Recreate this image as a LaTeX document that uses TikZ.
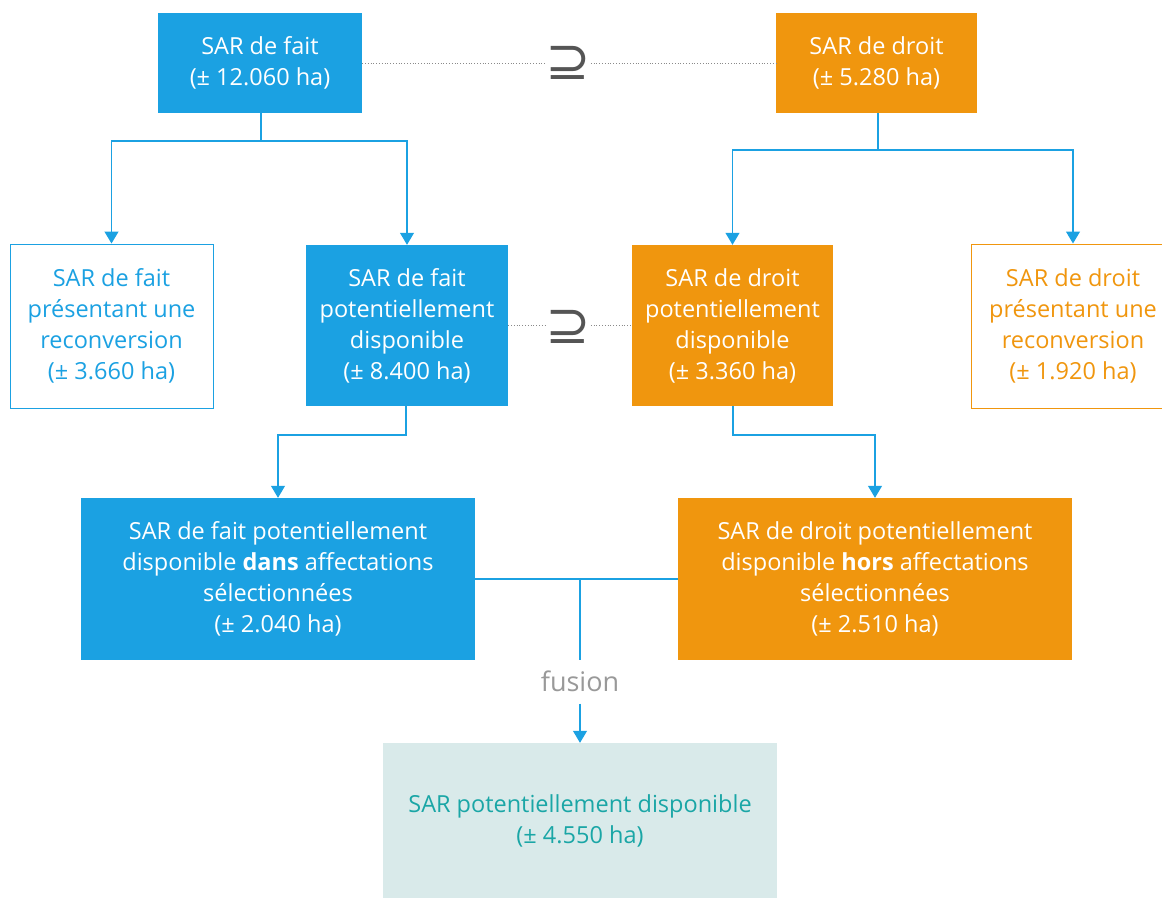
\documentclass[tikz,border=0pt]{standalone}
\usepackage{fontspec}
\setmainfont{Open Sans}
\newfontfamily\symfont{DejaVu Sans}
\usetikzlibrary{arrows.meta}
\definecolor{sarblue}{HTML}{1BA1E2}
\definecolor{sarorange}{HTML}{F0960E}
\definecolor{sarteal}{HTML}{1AA6A6}
\definecolor{sartealbg}{HTML}{D9EAEA}
\definecolor{supgray}{HTML}{555555}
\definecolor{dotgray}{HTML}{8A8A8A}
\definecolor{fusiongray}{HTML}{999999}
\begin{document}
\begin{tikzpicture}[x=1pt,y=-1pt,
  every node/.style={font=\fontsize{23.5}{31}\selectfont, align=center, inner sep=0pt},
  solidbox/.style={fill=#1, text=white, minimum width=203, minimum height=100},
  openbox/.style={draw=#1, line width=1pt, fill=white, text=#1},
  conn/.style={draw=sarblue, line width=1.2pt},
  arr/.style={conn, -{Triangle[width=14pt,length=12pt]}},
  dotline/.style={draw=dotgray, line width=0.8pt, dotted},
  supsign/.style={font=\symfont\fontsize{54}{54}\selectfont, text=supgray},
]
\useasboundingbox (0,0) rectangle (1162,897);

% top row
\node[solidbox=sarblue, minimum width=204] (fait) at (260,63) {SAR de fait\\(± 12.060 ha)};
\node[solidbox=sarorange, minimum width=201] (droit) at (876.5,63) {SAR de droit\\(± 5.280 ha)};
\node[supsign] (sup1) at (568,63) {⊇};

% second row
\node[openbox=sarblue, minimum width=203, minimum height=164] (faitrec) at (111.5,326) {SAR de fait\\présentant une\\reconversion\\(± 3.660 ha)};
\node[solidbox=sarblue, minimum width=202, minimum height=161] (faitdisp) at (407,325.5) {SAR de fait\\potentiellement\\disponible\\(± 8.400 ha)};
\node[supsign] (sup2) at (568,327) {⊇};
\node[solidbox=sarorange, minimum width=201, minimum height=161] (droitdisp) at (732.5,325.5) {SAR de droit\\potentiellement\\disponible\\(± 3.360 ha)};
\node[openbox=sarorange, minimum width=204, minimum height=164] (droitrec) at (1073,326) {SAR de droit\\présentant une\\reconversion\\(± 1.920 ha)};

% third row
\node[solidbox=sarblue, minimum width=394, minimum height=162] (faitsel) at (278,579) {SAR de fait potentiellement\\disponible \textbf{dans} affectations\\sélectionnées\\(± 2.040 ha)};
\node[solidbox=sarorange, minimum width=394, minimum height=162] (droitsel) at (875,579) {SAR de droit potentiellement\\disponible \textbf{hors} affectations\\sélectionnées\\(± 2.510 ha)};

% result
\node[fill=sartealbg, text=sarteal, minimum width=394, minimum height=156] (result) at (580,821) {SAR potentiellement disponible\\(± 4.550 ha)};
\node[text=fusiongray, font=\fontsize{27}{31}\selectfont] (fusion) at (580,681) {fusion};

% inclusion relations
\draw[dotline] (fait.east) -- (sup1.west);
\draw[dotline] (sup1.east) -- (droit.west);
\draw[dotline] (faitdisp.east) -- (sup2.west |- faitdisp.east);
\draw[dotline] (sup2.east |- droitdisp.west) -- (droitdisp.west);

% splits
\coordinate (faitsplit) at (261,141);
\coordinate (droitsplit) at (878,150);
\draw[conn] (fait.south -| faitsplit) -- (faitsplit);
\draw[arr] (faitsplit) -| (faitrec.north);
\draw[arr] (faitsplit) -| (faitdisp.north);
\draw[conn] (droit.south -| droitsplit) -- (droitsplit);
\draw[arr] (droitsplit) -| (droitdisp.north);
\draw[arr] (droitsplit) -| (droitrec.north);

\coordinate (faitdown) at (406,435);
\coordinate (droitdown) at (733,435);
\draw[arr] (faitdisp.south -| faitdown) -- (faitdown) -| (faitsel.north);
\draw[arr] (droitdisp.south -| droitdown) -- (droitdown) -| (droitsel.north);

% merge
\coordinate (merge) at (580,579);
\draw[conn] (faitsel.east) -- (droitsel.west);
\draw[conn] (merge) -- (merge |- faitsel.south);
\draw[arr] ([yshift=-12pt]fusion.south) -- (result.north);
\end{tikzpicture}
\end{document}
